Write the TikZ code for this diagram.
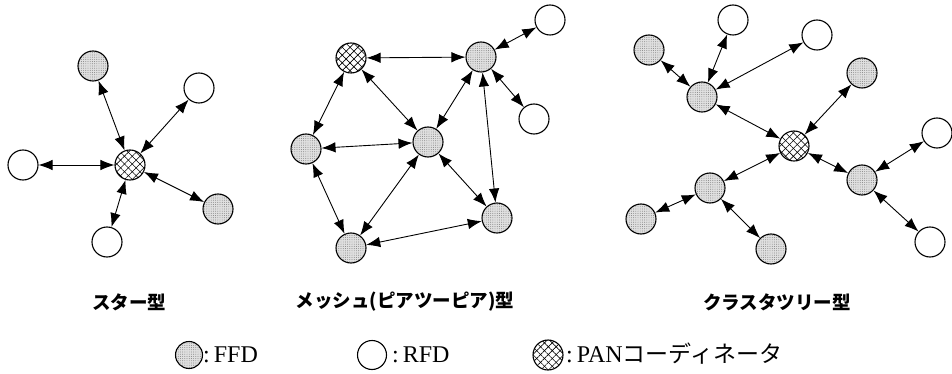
\documentclass[tikz,border=0pt]{standalone}
\usepackage{fontspec}
\setmainfont{Liberation Serif}
\newfontfamily\cjk{Noto Sans CJK JP}
\newcommand{\lgdjfont}{\cjk\fontsize{23}{23}\selectfont}
\usetikzlibrary{arrows.meta,patterns.meta}
\tikzset{
  nd/.style={circle,draw,line width=1.1pt,minimum size=30pt,inner sep=0pt},
  ffd/.style={nd,preaction={fill=black!12},
    preaction={pattern={Dots[distance=2.2pt,radius=0.45pt]},pattern color=black!55}},
  rfd/.style={nd,fill=white},
  pan/.style={nd,preaction={fill=white},
    preaction={pattern={Lines[angle=45,distance=5.5pt,line width=0.6pt]}},
    preaction={pattern={Lines[angle=-45,distance=5.5pt,line width=0.6pt]}}},
  link/.style={>={Latex[length=14pt,width=10.5pt]},<->,line width=0.9pt},
  ttl/.style={font=\cjk\bfseries\fontsize{18.5}{18.5}\selectfont,inner sep=0pt},
  lgd/.style={font=\fontsize{24}{24}\selectfont,inner sep=0pt,anchor=base west},
}
\begin{document}
\begin{tikzpicture}[x=1pt,y=-1pt]
\useasboundingbox (0,0) rectangle (952,374);
% ---- star ----
\node[pan] (sc) at (130,165) {};
\node[ffd] (s1) at (93,66) {};
\node[rfd] (s2) at (199,88) {};
\node[rfd] (s3) at (23,165) {};
\node[ffd] (s4) at (218,209) {};
\node[rfd] (s5) at (107,242) {};
\foreach \n in {s1,s2,s3,s4,s5} \draw[link] (sc) -- (\n);
% ---- mesh ----
\node[pan] (mp) at (351,58) {};
\node[ffd] (mt) at (481,57) {};
\node[rfd] (mr1) at (550,20) {};
\node[rfd] (mr2) at (534,119) {};
\node[ffd] (mc) at (428,142) {};
\node[ffd] (ml) at (306,149) {};
\node[ffd] (mb) at (351,248) {};
\node[ffd] (mrb) at (497,218) {};
\draw[link] (mp) -- (mt);
\draw[link] (mp) -- (ml);
\draw[link] (mp) -- (mc);
\draw[link] (mt) -- (mc);
\draw[link] (mt) -- (mrb);
\draw[link] (mt) -- (mr1);
\draw[link] (mt) -- (mr2);
\draw[link] (ml) -- (mc);
\draw[link] (ml) -- (mb);
\draw[link] (mc) -- (mb);
\draw[link] (mc) -- (mrb);
\draw[link] (mb) -- (mrb);
% ---- cluster tree ----
\node[pan] (cp) at (794,146) {};
\node[ffd] (ch1) at (702,97) {};
\node[ffd] (ca) at (649,50) {};
\node[rfd] (cb) at (733,20) {};
\node[rfd] (cc) at (817,35) {};
\node[ffd] (cd) at (862,73) {};
\node[ffd] (ch2) at (862,180) {};
\node[rfd] (ce) at (937,133) {};
\node[rfd] (cf) at (930,242) {};
\node[ffd] (ch3) at (710,188) {};
\node[ffd] (cg) at (641,219) {};
\node[ffd] (chh) at (771,249) {};
\draw[link] (ch1) -- (ca);
\draw[link] (ch1) -- (cb);
\draw[link] (ch1) -- (cc);
\draw[link] (ch1) -- (cp);
\draw[link] (cp) -- (cd);
\draw[link] (cp) -- (ch2);
\draw[link] (ch2) -- (ce);
\draw[link] (ch2) -- (cf);
\draw[link] (cp) -- (ch3);
\draw[link] (ch3) -- (cg);
\draw[link] (ch3) -- (chh);
% ---- titles ----
\node[ttl] (t1) at (129,302) {スター型};
\node[ttl] (t2) at (405,302) {メッシュ(ピアツーピア)型};
\node[ttl] (t3) at (777,302) {クラスタツリー型};
% ---- legend ----
\node[ffd,minimum size=27pt] (lf) at (189,355) {};
\node[lgd] (lft) at (203,362) {:\,FFD};
\node[rfd,minimum size=29pt] (lr) at (372,355) {};
\node[lgd] (lrt) at (392,362) {:\,RFD};
\node[pan,minimum size=30pt] (lp) at (548,355) {};
\node[lgd] (lpt) at (566,362) {:\,PAN{\lgdjfont コーディネータ}};
\end{tikzpicture}
\end{document}
